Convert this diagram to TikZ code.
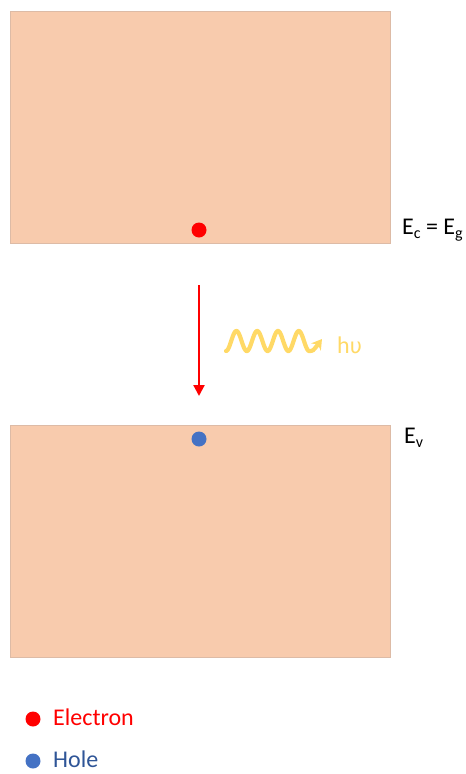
\documentclass[tikz,border=0pt]{standalone}
\usepackage{fontspec}
\setmainfont{Carlito}
\usetikzlibrary{arrows.meta}
\definecolor{band}{HTML}{F8CBAD}
\definecolor{bandedge}{HTML}{DDBBA6}
\definecolor{elec}{HTML}{FF0000}
\definecolor{hole}{HTML}{4472C4}
\definecolor{holetext}{HTML}{2F5597}
\definecolor{photon}{HTML}{FFD966}
\newcommand{\lsub}[1]{\raisebox{-4pt}{\fontsize{16}{16}\selectfont #1}}
\tikzset{
  bandbox/.style={fill=band, draw=bandedge, line width=0.8pt},
  carrier/.style={circle, inner sep=0pt, minimum size=15pt},
  lbl/.style={anchor=base west, inner sep=0pt, font=\fontsize{24}{28}\selectfont},
}
\begin{document}
\begin{tikzpicture}[x=1pt, y=-1pt]
  \useasboundingbox (0,0) rectangle (466,774);
  % bands
  \node[bandbox, anchor=north west, minimum width=379.5pt, minimum height=232pt, inner sep=0pt] (cb) at (10,11) {};
  \node[bandbox, anchor=north west, minimum width=379.5pt, minimum height=232pt, inner sep=0pt] (vb) at (10,425) {};
  % carriers
  \node[carrier, fill=elec] (e) at (199,230) {};
  \node[carrier, fill=hole] (h) at (199,439) {};
  % labels
  \node[lbl] (ec) at (402,234) {E\lsub{c} = E\lsub{g}};
  \node[lbl] (ev) at (404,443) {E\lsub{v}};
  % transition arrow
  \coordinate (a1) at (199,285);
  \coordinate (a2) at (199,396);
  \draw[elec, line width=2.2pt, -{Triangle[length=11pt, width=11pt]}] (a1) -- (a2);
  % photon
  \coordinate (w1) at (322,339);
  \draw[photon, line width=4.2pt, line cap=round, -{Stealth[length=10pt, width=12pt]}]
    plot[domain=0:83, samples=120, smooth] ({226+\x}, {341+10*cos(17.3077*\x)})
    .. controls (313,351) .. (w1);
  \node[lbl, text=photon] (hv) at (337,353) {h\fontspec{DejaVu Sans}\fontsize{21}{24}\selectfont υ};
  % legend
  \node[carrier, fill=elec] (le) at (33,719) {};
  \node[lbl, text=elec] (let) at (53,725) {Electron};
  \node[carrier, fill=hole] (lh) at (33,761) {};
  \node[lbl, text=holetext] (lht) at (53,767) {Hole};
\end{tikzpicture}
\end{document}
